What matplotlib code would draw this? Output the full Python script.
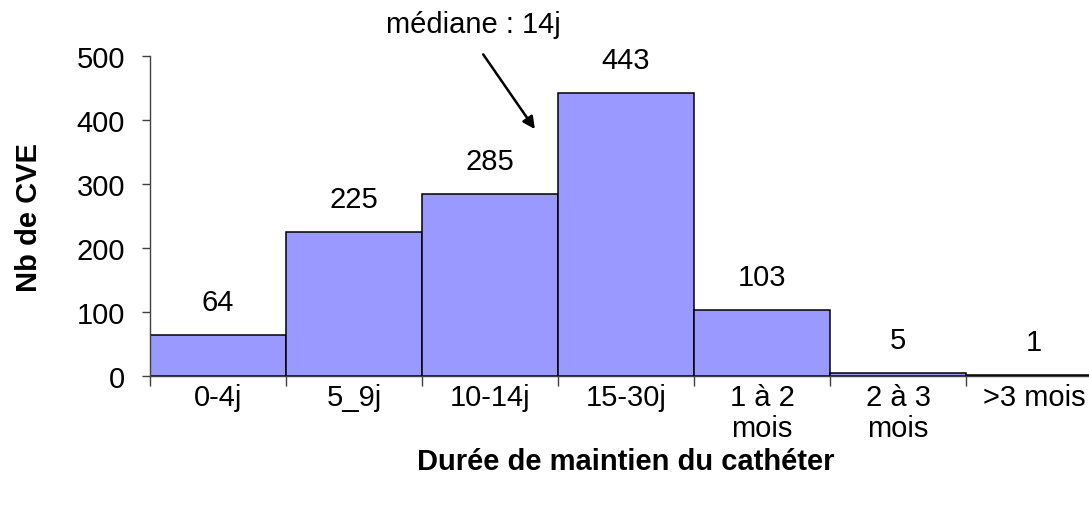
import matplotlib
matplotlib.use("Agg")
import matplotlib.pyplot as plt
import numpy as np

categories = ["0-4j", "5_9j", "10-14j", "15-30j", "1 à 2\nmois", "2 à 3\nmois", ">3 mois"]
values = [64, 225, 285, 443, 103, 5, 1]
yticks = [0, 100, 200, 300, 400, 500]
annotation_text = "médiane : 14j"

plt.rcParams['font.family'] = ['Liberation Sans', 'DejaVu Sans']
FS = 21

fig = plt.figure(figsize=(10.89, 5.06), dpi=100)
ax = fig.add_axes([150/1089, (506-376.7)/506, 952/1089, 319.4/506])

x = np.arange(len(categories))
ax.bar(x, values, width=1.0, color='#9999FF', edgecolor='black', linewidth=1.1, zorder=2)

for xi, v in zip(x, values):
    ax.annotate(str(v), (xi, v), xytext=(0, 23.5), textcoords='offset points',
                ha='center', va='center', fontsize=FS, clip_on=False)

ax.set_xlim(-0.5, len(categories) - 0.5)
ax.set_ylim(0, 500)
ax.set_yticks(yticks)
ax.set_yticklabels([str(t) for t in yticks], fontsize=FS)
ax.tick_params(axis='y', direction='out', length=6, width=1, color='#404040', pad=12)

ax.set_xticks(x)
ax.set_xticklabels(categories, fontsize=FS, linespacing=1.15, va='top')
ax.tick_params(axis='x', which='major', length=0, pad=5)
ax.set_xticks(np.arange(len(categories) + 1) - 0.5, minor=True)
ax.tick_params(axis='x', which='minor', direction='out', length=7, width=1, color='#404040')

for s in ['top', 'right']:
    ax.spines[s].set_visible(False)
for s in ['left', 'bottom']:
    ax.spines[s].set_color('#404040')
    ax.spines[s].set_linewidth(1)

ax.set_xlabel("Durée de maintien du cathéter", fontsize=FS, fontweight='bold', labelpad=4)
ax.set_ylabel("Nb de CVE", fontsize=FS, fontweight='bold', labelpad=24)

ax.text(1.88, 551, annotation_text, fontsize=FS, ha='center', va='center', clip_on=False)
ax.annotate('', xy=(2.33, 386), xytext=(1.95, 503), annotation_clip=False,
            arrowprops=dict(arrowstyle='-|>', color='black', lw=1.8,
                            shrinkA=0, shrinkB=0, mutation_scale=18))

fig.savefig("out.png", dpi=100)
